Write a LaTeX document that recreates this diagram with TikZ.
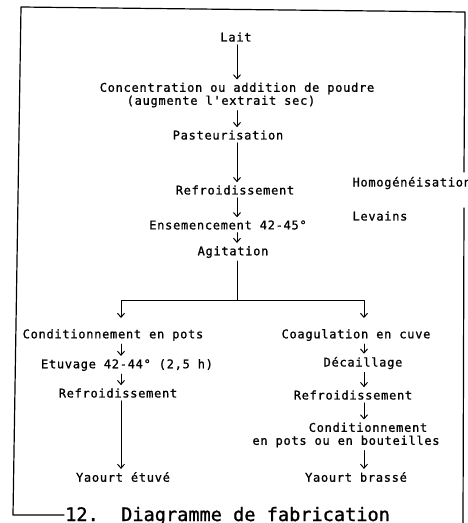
\documentclass[tikz,border=0pt]{standalone}
\usepackage{fontspec}
\usetikzlibrary{arrows.meta}
\newfontfamily\typew[LetterSpace=6, FakeBold=1]{DejaVu Sans Mono}
\newfontfamily\capt[FakeBold=1.2]{DejaVu Sans Mono}
\begin{document}
\begin{tikzpicture}[x=1pt, y=-1pt, font=\typew\fontsize{12}{13}\selectfont, line join=round, line cap=round,
	>={Straight Barb[length=4pt,width=7pt]}, stage/.style={inner sep=3pt}, flow/.style={->, line width=1pt}]
	\useasboundingbox (0,0) rectangle (468,523);
	\path
	(237,0) coordinate (mid)
	(121,0) coordinate (lx)
	(364,0) coordinate (rx)
	(237,300) coordinate (split)
	;
	% cadre
	\draw[line width=1.2pt] (464,172)--(465,12)--(21,7)--(13,515)--(64,515);
	\draw[line width=1.2pt] (464,208)--(463,523);
	% colonne principale
	\node[stage] (lait) at (236,37) {Lait};
	\node[stage, align=center] (conc) at (237,95) {Concentration ou addition de poudre\\(augmente l'extrait sec)\hspace*{32pt}};
	\node[stage] (past) at (228,135) {Pasteurisation};
	\node[stage] (refr) at (235,190) {Refroidissement};
	\node[stage] (ens) at (228,225) {Ensemencement 42-45\textdegree};
	\node[stage] (agit) at (233,252) {Agitation};
	\node[anchor=west] (homo) at (349,183) {Homogénéisation};
	\node[anchor=west] (lev) at (349,216) {Levains};
	\foreach \a/\b in {lait/conc,conc/past,past/refr,refr/ens,ens/agit}
	\draw[flow] (mid |- \a.south)--(mid |- \b.north);
	% les deux branches
	\draw[line width=1pt] (mid |- agit.south)--(split);
	\draw[flow] (split)-|(lx |- 0,318);
	\draw[flow] (split)-|(rx |- 0,318);
	\node[stage] (cond) at (113,335) {Conditionnement en pots};
	\node[stage] (etuv) at (127,365) {Etuvage 42-44\textdegree{} (2,5 h)};
	\node[stage] (refrb) at (118,393) {Refroidissement};
	\node[stage] (yet) at (123,477) {Yaourt étuvé};
	\node[stage] (coag) at (356,335) {Coagulation en cuve};
	\node[stage] (deca) at (363,363) {Décaillage};
	\node[stage] (refrc) at (353,395) {Refroidissement};
	\node[stage, align=center] (condb) at (346,435) {\hspace*{44pt}Conditionnement\\en pots ou en bouteilles};
	\node[stage] (ybr) at (356,477) {Yaourt brassé};
	\foreach \a/\b in {cond/etuv,etuv/refrb,refrb/yet}
	\draw[flow] (lx |- \a.south)--(lx |- \b.north);
	\foreach \a/\b in {coag/deca,deca/refrc,refrc/condb,condb/ybr}
	\draw[flow] (rx |- \a.south)--(rx |- \b.north);
	% legende
	\node[anchor=base west, inner sep=0pt, font=\capt\fontsize{18.6}{20}\selectfont] (titre) at (65,521) {12.\ \ Diagramme de fabrication};
\end{tikzpicture}
\end{document}
